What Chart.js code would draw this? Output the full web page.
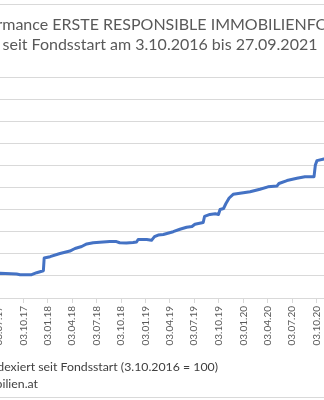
<!DOCTYPE html>
<html>
<head>
<meta charset="utf-8">
<script src="https://cdn.jsdelivr.net/npm/chart.js@4.4.1/dist/chart.umd.min.js"></script>
<style>
  html, body { margin: 0; padding: 0; background: #fff; }
  body { width: 324px; height: 400px; overflow: hidden; position: relative; font-family: Lato, "Open Sans", sans-serif; }
  .frame { position: absolute; left: -200px; top: 4px; width: 800px; height: 394px; box-sizing: border-box; border: 1px solid #d9d9d9; }
  #myChart { position: absolute; left: -130px; top: 5px; }
  .title { position: absolute; left: -240px; top: 14px; width: 800px; text-align: center; color: #595959; font-size: 16px; line-height: 20px; white-space: nowrap; }
  .note { position: absolute; color: #404040; font-size: 12.3px; line-height: 17px; white-space: nowrap; }
</style>
</head>
<body>
<div class="frame"></div>
<canvas id="myChart" width="580" height="392"></canvas>
<div class="title">Performance ERSTE RESPONSIBLE IMMOBILIENFONDS<br>seit Fondsstart am 3.10.2016 bis 27.09.2021</div>
<div class="note" style="right: 106px; top: 358px;">Performance indexiert seit Fondsstart (3.10.2016 = 100)</div>
<div class="note" style="right: 286px; top: 375px;">Quelle: www.ersteimmobilien.at</div>
<script>
// Wertentwicklung, indexiert (3.10.2016 = 100)
const dates = [
  '2016-10-03', '2016-11-15', '2017-01-10', '2017-03-20', '2017-05-20', '2017-07-08',
  '2017-09-08', '2017-09-21', '2017-11-03', '2017-11-22', '2017-12-17', '2017-12-20',
  '2018-01-11', '2018-02-17', '2018-03-26', '2018-04-14', '2018-05-09', '2018-05-28',
  '2018-06-21', '2018-07-28', '2018-08-22', '2018-09-16', '2018-09-28', '2018-10-23',
  '2018-11-17', '2018-11-30', '2018-12-06', '2019-01-07', '2019-01-25', '2019-02-05',
  '2019-02-19', '2019-03-10', '2019-04-16', '2019-05-11', '2019-06-05', '2019-06-25',
  '2019-07-06', '2019-08-06', '2019-08-11', '2019-08-31', '2019-09-20', '2019-10-02',
  '2019-10-08', '2019-10-21', '2019-10-30', '2019-11-11', '2019-11-26', '2020-01-03',
  '2020-01-28', '2020-03-05', '2020-04-04', '2020-05-08', '2020-05-15', '2020-06-14',
  '2020-07-21', '2020-08-20', '2020-09-23', '2020-09-28', '2020-10-04', '2020-10-30',
  '2021-01-15', '2021-04-10', '2021-07-05', '2021-09-27'
];
const values = [
  100.00, 100.05, 100.10, 100.15, 100.20, 100.24,
  100.17, 100.11, 100.11, 100.29, 100.47, 101.62,
  101.74, 102.03, 102.25, 102.48, 102.66, 102.89,
  103.00, 103.07, 103.11, 103.11, 103.00, 102.98,
  103.02, 103.07, 103.29, 103.29, 103.22, 103.55,
  103.70, 103.75, 104.00, 104.22, 104.40, 104.47,
  104.67, 104.83, 105.38, 105.56, 105.62, 105.56,
  106.01, 106.10, 106.55, 107.05, 107.38, 107.53,
  107.62, 107.84, 108.06, 108.14, 108.36, 108.63,
  108.83, 108.97, 108.98, 110.04, 110.43, 110.58,
  111.00, 111.55, 112.20, 112.80
];
const tickLabels = [
  '03.10.16', '03.01.17', '03.04.17', '03.07.17', '03.10.17', '03.01.18', '03.04.18',
  '03.07.18', '03.10.18', '03.01.19', '03.04.19', '03.07.19', '03.10.19', '03.01.20',
  '03.04.20', '03.07.20', '03.10.20', '03.01.21', '03.04.21', '03.07.21'
];
const yMin = 98, yMax = 118, yStep = 2;

function dayNum(iso) {
  let p = iso.split('-');
  return Date.UTC(+p[0], +p[1] - 1, +p[2]) / 86400000;
}
function labelDay(lbl) {
  let p = lbl.split('.');
  return Date.UTC(2000 + +p[2], +p[1] - 1, +p[0]) / 86400000;
}

const tickDays = tickLabels.map(labelDay);
const points = dates.map((d, i) => ({ x: dayNum(d), y: values[i] }));

const tickFont = { family: 'Lato', size: 10 };

const config = {
  type: 'line',
  data: {
    datasets: [{
      label: 'Performance indexiert seit Fondsstart (3.10.2016 = 100)',
      data: points,
      borderColor: '#4472C4',
      borderWidth: 3,
      borderJoinStyle: 'round',
      borderCapStyle: 'round',
      pointRadius: 0,
      tension: 0,
      fill: false
    }]
  },
  options: {
    responsive: false,
    animation: false,
    layout: {
      padding: { left: 15.6, right: 37.2, top: 72, bottom: 49 }
    },
    scales: {
      x: {
        type: 'linear',
        min: dayNum(dates[0]),
        max: dayNum(dates[dates.length - 1]),
        afterBuildTicks: (s) => { s.ticks = tickDays.map(v => ({ value: v })); },
        afterFit: (s) => { s.height = 50; },
        grid: {
          drawOnChartArea: false,
          drawTicks: true,
          tickLength: 5,
          color: '#d9d9d9'
        },
        border: { display: true, color: '#d9d9d9' },
        ticks: {
          autoSkip: false,
          minRotation: 90,
          maxRotation: 90,
          padding: 3,
          color: '#595959',
          font: tickFont,
          callback: (v, i) => tickLabels[i]
        }
      },
      y: {
        min: yMin,
        max: yMax,
        afterFit: (s) => { s.width = 40; },
        grid: { color: '#d9d9d9', drawTicks: false },
        border: { display: false },
        ticks: {
          stepSize: yStep,
          padding: 6,
          color: '#595959',
          font: tickFont
        }
      }
    },
    plugins: {
      legend: { display: false },
      title: { display: false },
      tooltip: { enabled: false }
    }
  }
};

let myChart = new Chart(document.getElementById('myChart'), config);
</script>
</body>
</html>
